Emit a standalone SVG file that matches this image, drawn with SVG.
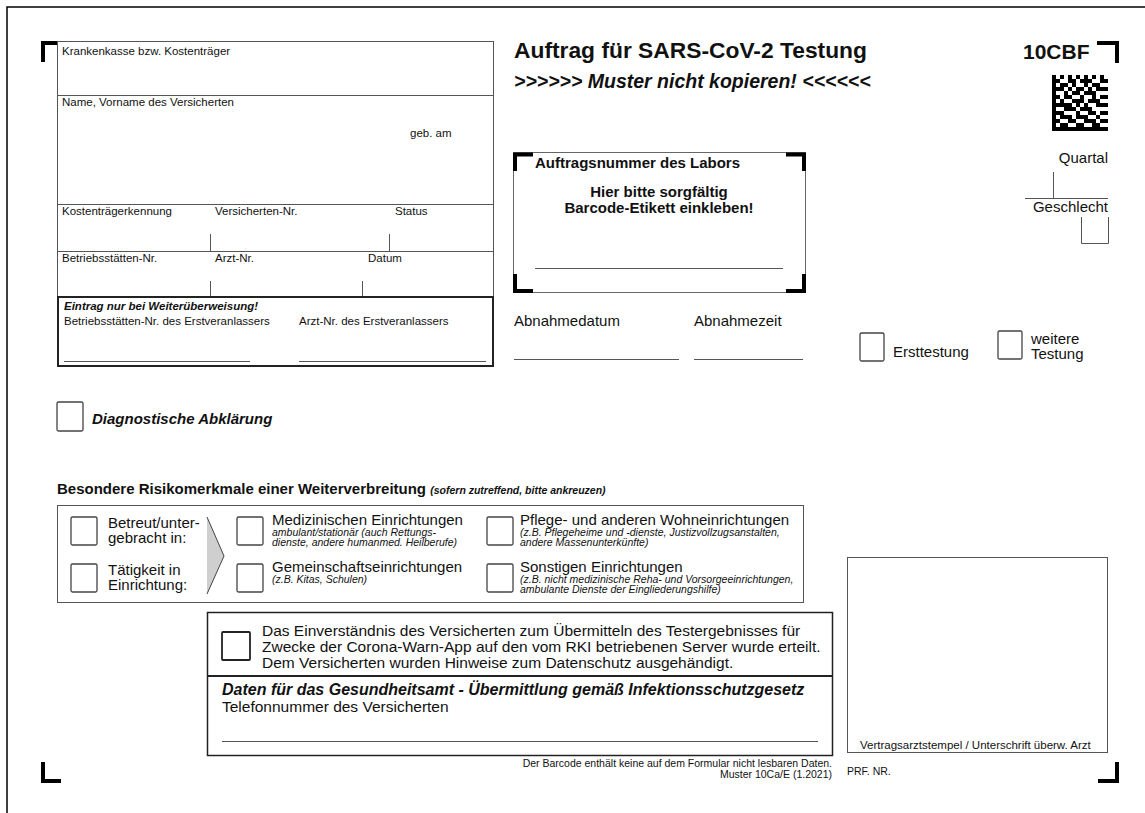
<svg xmlns="http://www.w3.org/2000/svg" width="1145" height="813" viewBox="0 0 1145 813" font-family="'Liberation Sans', Arial, Helvetica, sans-serif">
<style>
text{fill:#111}
.ln{stroke:#555;stroke-width:1;fill:none}
.dk{stroke:#222;stroke-width:2;fill:none}
.bx{fill:#fff;stroke:#444;stroke-width:1.3}
.mk{fill:none;stroke:#000;stroke-width:4;stroke-linejoin:miter}
.s{font-size:11.5px}
.m{font-size:15px}
.b{font-weight:bold}
.i{font-style:italic}
.sub{font-size:10.5px;font-style:italic}
.ft{font-size:10.5px}
</style>
<rect width="1145" height="813" fill="#fff"/>
<path d="M7 813V7H1145" stroke="#000" stroke-width="1.5" fill="none"/>

<g id="corner-marks">
<path class="mk" d="M43 62V43H57"/>
<path class="mk" d="M1097 43H1117V63"/>
<path class="mk" d="M43 762V781H61"/>
<path class="mk" d="M1098 781H1117V762"/>
</g>

<g id="patient-box">
<rect x="57.5" y="41.5" width="436" height="256" class="ln"/>
<path class="ln" d="M57 95.5H493M57 204.5H493M57 251.5H493M210.5 234V251M389.5 234V251M210.5 281V297M362.5 281V297"/>
<text class="s" x="62" y="55">Krankenkasse bzw. Kostenträger</text>
<text class="s" x="62" y="106">Name, Vorname des Versicherten</text>
<text class="s" x="410" y="137">geb. am</text>
<text class="s" x="62" y="215">Kostenträgerkennung</text>
<text class="s" x="215" y="215">Versicherten-Nr.</text>
<text class="s" x="395" y="215">Status</text>
<text class="s" x="62" y="262">Betriebsstätten-Nr.</text>
<text class="s" x="215" y="262">Arzt-Nr.</text>
<text class="s" x="368" y="262">Datum</text>
</g>

<g id="weiterueberweisung">
<rect x="58" y="297" width="435" height="69" class="dk"/>
<path class="ln" d="M64 361.5H250M299 361.5H486"/>
<text class="s b i" x="64" y="310">Eintrag nur bei Weiterüberweisung!</text>
<text class="s" x="64" y="325">Betriebsstätten-Nr. des Erstveranlassers</text>
<text class="s" x="299" y="325">Arzt-Nr. des Erstveranlassers</text>
</g>

<g id="title">
<text class="b" x="514" y="58" font-size="22.8">Auftrag für SARS-CoV-2 Testung</text>
<text class="b i" x="514" y="88" font-size="19.5">&gt;&gt;&gt;&gt;&gt;&gt; Muster nicht kopieren! &lt;&lt;&lt;&lt;&lt;&lt;</text>
</g>

<g id="form-code">
<text class="b" x="1023" y="59" font-size="21">10CBF</text>
<path fill="#000" d="M1052 75h4v4h-4zM1060 75h4v4h-4zM1068 75h4v4h-4zM1076 75h4v4h-4zM1084 75h4v4h-4zM1092 75h4v4h-4zM1100 75h4v4h-4zM1052 79h8v4h-8zM1068 79h8v4h-8zM1080 79h12v4h-12zM1100 79h8v4h-8zM1052 83h4v4h-4zM1060 83h8v4h-8zM1072 83h4v4h-4zM1084 83h4v4h-4zM1092 83h8v4h-8zM1052 87h12v4h-12zM1068 87h4v4h-4zM1076 87h8v4h-8zM1088 87h4v4h-4zM1096 87h12v4h-12zM1052 91h4v4h-4zM1064 91h4v4h-4zM1072 91h8v4h-8zM1084 91h12v4h-12zM1052 95h8v4h-8zM1064 95h8v4h-8zM1080 95h4v4h-4zM1092 95h4v4h-4zM1100 95h8v4h-8zM1052 99h4v4h-4zM1060 99h4v4h-4zM1072 99h12v4h-12zM1088 99h12v4h-12zM1052 103h20v4h-20zM1076 103h4v4h-4zM1084 103h4v4h-4zM1096 103h12v4h-12zM1052 107h4v4h-4zM1064 107h12v4h-12zM1080 107h12v4h-12zM1052 111h12v4h-12zM1076 111h4v4h-4zM1088 111h8v4h-8zM1100 111h8v4h-8zM1052 115h4v4h-4zM1060 115h12v4h-12zM1076 115h12v4h-12zM1096 115h4v4h-4zM1052 119h8v4h-8zM1068 119h8v4h-8zM1084 119h12v4h-12zM1100 119h8v4h-8zM1052 123h4v4h-4zM1060 123h8v4h-8zM1076 123h8v4h-8zM1092 123h8v4h-8zM1052 127h56v4h-56z"/>
</g>

<g id="quartal-geschlecht">
<text class="m" x="1108" y="163" text-anchor="end">Quartal</text>
<path class="ln" d="M1053.5 172V198M1025 198.5H1108M1081.5 217V243.5H1108.5V217"/>
<text class="m" x="1108" y="212" text-anchor="end">Geschlecht</text>
</g>

<g id="lab-box">
<rect x="513.5" y="152.5" width="292" height="140" fill="none" stroke="#666" stroke-width="1"/>
<path class="mk" d="M515 171V154.5H533M786 154.5H804V171M515 274V291H533M786 291H804V274"/>
<text class="b" x="535" y="168" font-size="15">Auftragsnummer des Labors</text>
<text class="b" x="659" y="197" font-size="15" text-anchor="middle">Hier bitte sorgfältig</text>
<text class="b" x="659" y="213" font-size="15" text-anchor="middle">Barcode-Etikett einkleben!</text>
<path class="ln" d="M535 268.5H783"/>
</g>

<g id="abnahme">
<text class="m" x="514" y="326">Abnahmedatum</text>
<text class="m" x="694" y="326">Abnahmezeit</text>
<path class="ln" d="M514 359.5H679M694 359.5H803"/>
</g>

<g id="ersttestung">
<rect class="bx" x="860" y="333" width="24" height="28" rx="1.5"/>
<text class="m" x="893" y="357">Ersttestung</text>
</g>
<g id="weitere-testung">
<rect class="bx" x="998" y="331" width="24" height="28" rx="1.5"/>
<text class="m" x="1031" y="344">weitere</text>
<text class="m" x="1031" y="359">Testung</text>
</g>

<g id="diagnostische-abklaerung">
<rect class="bx" x="57" y="402" width="26" height="29" rx="1.5"/>
<text class="m b i" x="92" y="424" font-size="15.3">Diagnostische Abklärung</text>
</g>

<g id="risiko-heading">
<text class="m b" x="57" y="494">Besondere Risikomerkmale einer Weiterverbreitung <tspan font-size="10.5px" font-style="italic">(sofern zutreffend, bitte ankreuzen)</tspan></text>
</g>

<g id="risiko-box">
<rect x="57.5" y="505.5" width="746" height="97" class="ln"/>
<polygon points="207,517 224,556 207,594" fill="#cfcfcf"/>
<path d="M207 517L224 556L207 594" stroke="#444" stroke-width="1" fill="none"/>
</g>

<g id="betreut">
<rect class="bx" x="71" y="517" width="26" height="28" rx="1.5"/>
<text class="m" x="108" y="528">Betreut/unter-</text>
<text class="m" x="108" y="543">gebracht in:</text>
</g>
<g id="taetigkeit">
<rect class="bx" x="71" y="564" width="26" height="28" rx="1.5"/>
<text class="m" x="108" y="575">Tätigkeit in</text>
<text class="m" x="108" y="590">Einrichtung:</text>
</g>
<g id="medizinische">
<rect class="bx" x="237" y="517" width="26" height="28" rx="1.5"/>
<text class="m" x="272" y="525">Medizinischen Einrichtungen</text>
<text class="sub" x="272" y="536">ambulant/stationär (auch Rettungs-</text>
<text class="sub" x="272" y="546">dienste, andere humanmed. Heilberufe)</text>
</g>
<g id="gemeinschaft">
<rect class="bx" x="237" y="564" width="26" height="28" rx="1.5"/>
<text class="m" x="272" y="572">Gemeinschaftseinrichtungen</text>
<text class="sub" x="272" y="583">(z.B. Kitas, Schulen)</text>
</g>
<g id="pflege">
<rect class="bx" x="487" y="517" width="26" height="28" rx="1.5"/>
<text class="m" x="520" y="525">Pflege- und anderen Wohneinrichtungen</text>
<text class="sub" x="520" y="536">(z.B. Pflegeheime und -dienste, Justizvollzugsanstalten,</text>
<text class="sub" x="520" y="546">andere Massenunterkünfte)</text>
</g>
<g id="sonstige">
<rect class="bx" x="487" y="564" width="26" height="28" rx="1.5"/>
<text class="m" x="520" y="572">Sonstigen Einrichtungen</text>
<text class="sub" x="520" y="583">(z.B. nicht medizinische Reha- und Vorsorgeeinrichtungen,</text>
<text class="sub" x="520" y="593">ambulante Dienste der Eingliederungshilfe)</text>
</g>

<g id="einverstaendnis">
<rect x="207.5" y="612.5" width="625" height="143" fill="none" stroke="#222" stroke-width="1.5"/>
<rect x="222" y="632" width="28" height="28" fill="#fff" stroke="#222" stroke-width="1.8" rx="1"/>
<text x="262" y="636" font-size="15.5">Das Einverständnis des Versicherten zum Übermitteln des Testergebnisses für</text>
<text x="262" y="652" font-size="15.5">Zwecke der Corona-Warn-App auf den vom RKI betriebenen Server wurde erteilt.</text>
<text x="262" y="668" font-size="15.5">Dem Versicherten wurden Hinweise zum Datenschutz ausgehändigt.</text>
</g>

<g id="gesundheitsamt">
<path class="dk" d="M207 676H832"/>
<text class="b i" x="222" y="695" font-size="16">Daten für das Gesundheitsamt - Übermittlung gemäß Infektionsschutzgesetz</text>
<text x="222" y="712" font-size="15.5">Telefonnummer des Versicherten</text>
<path class="ln" d="M222 741.5H818"/>
</g>

<g id="footer">
<text class="ft" x="832" y="767" text-anchor="end">Der Barcode enthält keine auf dem Formular nicht lesbaren Daten.</text>
<text class="ft" x="832" y="778" text-anchor="end">Muster 10Ca/E (1.2021)</text>
<text class="ft" x="847" y="775">PRF. NR.</text>
</g>

<g id="stempel">
<rect x="847.5" y="557.5" width="260" height="195" class="ln"/>
<text class="s" x="860" y="749">Vertragsarztstempel / Unterschrift überw. Arzt</text>
</g>

<g id="connectors"></g>
</svg>
